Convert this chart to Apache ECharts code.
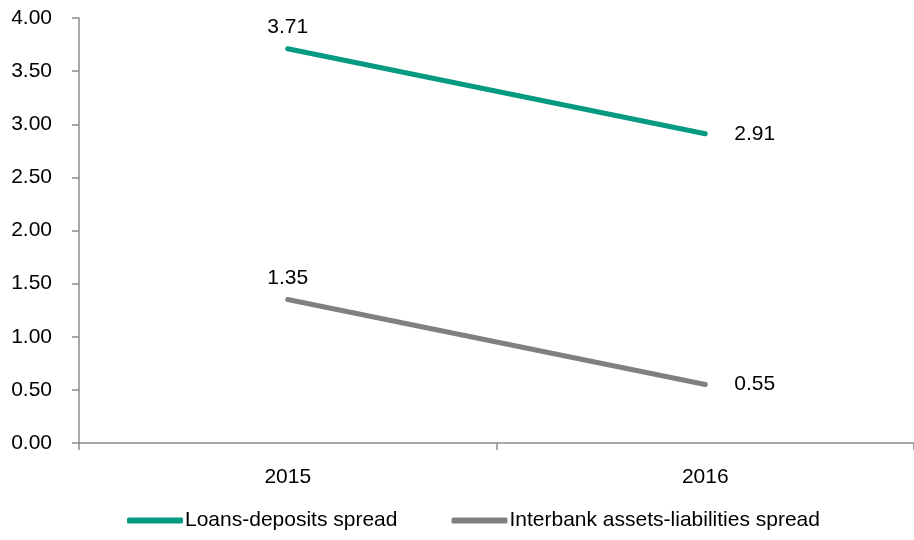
<!DOCTYPE html>
<html lang="en">
<head>
    <meta charset="UTF-8">
    <script src="https://cdn.jsdelivr.net/npm/echarts@6/dist/echarts.min.js"></script>
    <title>Spreads</title>
    <style>
        html, body { margin: 0; padding: 0; background: #fff; }
        #main { width: 914px; height: 540px; }
    </style>
</head>
<body>
    <div id="main"></div>
    <script type="text/javascript">
        // 数据
        var years = ['2015', '2016'];
        var loansDeposits = [3.71, 2.91];
        var interbank = [1.35, 0.55];
        var seriesNames = ['Loans-deposits spread', 'Interbank assets-liabilities spread'];

        var font = 'Liberation Sans, Arial, sans-serif';
        var axisColor = '#8c8c8c';
        var fs = 21;

        // 第一个点标签在上方，第二个点标签在右侧
        function withLabels(values) {
            return values.map(function (v, i) {
                return {
                    value: v,
                    label: i === 0
                        ? { position: 'top', distance: 9 }
                        : { position: 'right', distance: 27 }
                };
            });
        }

        function makeSeries(name, values, color) {
            return {
                name: name,
                type: 'line',
                data: withLabels(values),
                symbol: 'circle',
                symbolSize: 4,
                showSymbol: true,
                itemStyle: { color: color, borderWidth: 0 },
                color: color,
                lineStyle: { width: 5, color: color, cap: 'round' },
                label: {
                    show: true,
                    color: '#000',
                    fontSize: fs,
                    fontFamily: font,
                    formatter: function (p) { return p.value.toFixed(2); }
                }
            };
        }

        var myChart = echarts.init(document.getElementById('main'));
        var option = {
            animation: false,
            textStyle: { fontFamily: font },
            grid: { left: 79, right: -2, top: 18, bottom: 97, containLabel: false },
            legend: {
                bottom: 4,
                left: 122,
                itemWidth: 56,
                itemHeight: 6,
                itemGap: 54,
                icon: 'roundRect',
                textStyle: { fontSize: fs, color: '#000', fontFamily: font, padding: [0, 0, 0, -3] },
                data: seriesNames
            },
            xAxis: {
                type: 'category',
                data: years,
                boundaryGap: true,
                axisLine: { lineStyle: { color: axisColor, width: 1.5 } },
                axisTick: { show: true, length: 7, lineStyle: { color: axisColor, width: 1.5 } },
                axisLabel: { color: '#000', fontSize: fs, margin: 24, fontFamily: font }
            },
            yAxis: {
                type: 'value',
                min: 0,
                max: 4,
                interval: 0.5,
                axisLine: { show: true, lineStyle: { color: axisColor, width: 1.5 } },
                axisTick: { show: true, length: 7, lineStyle: { color: axisColor, width: 1.5 } },
                splitLine: { show: false },
                axisLabel: {
                    color: '#000',
                    fontSize: fs,
                    margin: 27,
                    fontFamily: font,
                    formatter: function (v) { return v.toFixed(2); }
                }
            },
            series: [
                makeSeries(seriesNames[0], loansDeposits, '#079a82'),
                makeSeries(seriesNames[1], interbank, '#808080')
            ]
        };
        myChart.setOption(option);
    </script>
</body>
</html>
